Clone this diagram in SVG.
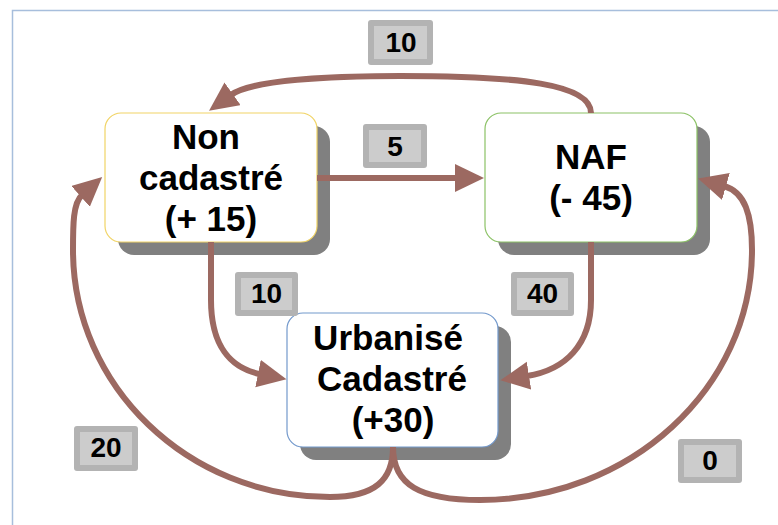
<svg xmlns="http://www.w3.org/2000/svg" width="778" height="525" viewBox="0 0 778 525">
  <style>
    .shadow { fill: #808080; }
    .box { fill: #ffffff; stroke-width: 1.2; }
    .node-text { font-family: "Liberation Sans", Arial, sans-serif; font-weight: bold; font-size: 35px; fill: #000000; text-anchor: middle; }
    .flow { fill: none; stroke: #9c6961; stroke-width: 6; }
    .tag-outer { fill: #b3b3b3; }
    .tag-inner { fill: #cccccc; }
    .tag-text { font-family: "Liberation Sans", Arial, sans-serif; font-weight: bold; font-size: 28px; fill: #000000; text-anchor: middle; }
  </style>
  <defs>
    <marker id="head" markerUnits="userSpaceOnUse" markerWidth="32" markerHeight="30" refX="2" refY="14" orient="auto">
      <path d="M0,0 L29,14 L0,28 Z" fill="#9c6961"/>
    </marker>
  </defs>

  <rect width="778" height="525" fill="#ffffff"/>
  <!-- page frame -->
  <rect x="12.5" y="10.5" width="800" height="540" fill="none" stroke="#a7bedc" stroke-width="1.5"/>

  <g id="node-non-cadastre">
    <rect class="shadow" x="118" y="126" width="212" height="129" rx="16"/>
    <rect class="box" x="105" y="113" width="212" height="129" rx="16" stroke="#f1d466"/>
    <text class="node-text" x="206" y="149">Non</text>
    <text class="node-text" x="211" y="190">cadastré</text>
    <text class="node-text" x="211" y="231">(+ 15)</text>
  </g>

  <g id="node-naf">
    <rect class="shadow" x="498" y="126" width="212" height="129" rx="16"/>
    <rect class="box" x="485" y="113" width="212" height="129" rx="16" stroke="#8cc266"/>
    <text class="node-text" x="591" y="169">NAF</text>
    <text class="node-text" x="591" y="210">(- 45)</text>
  </g>

  <g id="node-urbanise">
    <rect class="shadow" x="300" y="326" width="211" height="134" rx="16"/>
    <rect class="box" x="287" y="313" width="211" height="134" rx="16" stroke="#7399cc"/>
    <text class="node-text" x="388" y="350">Urbanisé</text>
    <text class="node-text" x="392" y="391">Cadastré</text>
    <text class="node-text" x="393" y="432">(+30)</text>
  </g>

  <g id="connectors">
    <!-- NAF -> Non cadastré (10) -->
    <path class="flow" marker-end="url(#head)" d="M591,113 C591,84 520,76 400,76 C330,76 252,80 231,95"/>
    <!-- Non cadastré -> NAF (5) -->
    <path class="flow" marker-end="url(#head)" d="M317,178 L457,178"/>
    <!-- Non cadastré -> Urbanisé (10) -->
    <path class="flow" marker-end="url(#head)" d="M211,242 L211,300 C211,345 230,368 260,374"/>
    <!-- NAF -> Urbanisé (40) -->
    <path class="flow" marker-end="url(#head)" d="M591,242 L591,300 C591,345 565,370 527,376"/>
    <!-- Urbanisé -> Non cadastré (20) -->
    <path class="flow" marker-end="url(#head)" d="M393,447 C393,480 375,497 330,497 C188,497 73,386 73,250 C73,225 73,203 82,195"/>
    <!-- Urbanisé -> NAF (0) -->
    <path class="flow" marker-end="url(#head)" d="M393,447 C393,485 420,500 480,500 C630,500 752,388 752,250 C752,215 745,192 724,186"/>
  </g>

  <g id="flow-labels">
    <g id="label-top-10">
      <rect class="tag-outer" x="368" y="20" width="65" height="45" rx="3"/>
      <rect class="tag-inner" x="374" y="26" width="53" height="33"/>
      <text class="tag-text" x="401" y="52">10</text>
    </g>
    <g id="label-5">
      <rect class="tag-outer" x="363" y="124" width="64" height="44" rx="3"/>
      <rect class="tag-inner" x="369" y="130" width="52" height="32"/>
      <text class="tag-text" x="395" y="156">5</text>
    </g>
    <g id="label-left-10">
      <rect class="tag-outer" x="235" y="272" width="63" height="44" rx="3"/>
      <rect class="tag-inner" x="241" y="278" width="51" height="32"/>
      <text class="tag-text" x="266.5" y="303">10</text>
    </g>
    <g id="label-40">
      <rect class="tag-outer" x="511" y="272" width="63" height="44" rx="3"/>
      <rect class="tag-inner" x="517" y="278" width="51" height="32"/>
      <text class="tag-text" x="542.5" y="303">40</text>
    </g>
    <g id="label-20">
      <rect class="tag-outer" x="74" y="426" width="64" height="45" rx="3"/>
      <rect class="tag-inner" x="80" y="432" width="52" height="33"/>
      <text class="tag-text" x="106" y="457">20</text>
    </g>
    <g id="label-0">
      <rect class="tag-outer" x="678" y="439" width="64" height="44" rx="3"/>
      <rect class="tag-inner" x="684" y="445" width="52" height="32"/>
      <text class="tag-text" x="710" y="470">0</text>
    </g>
  </g>
</svg>
